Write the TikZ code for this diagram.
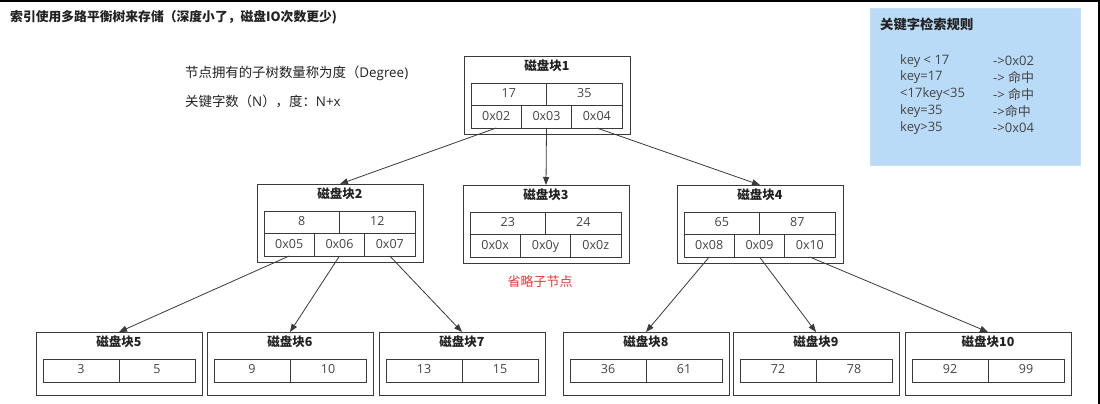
\documentclass[tikz,border=0pt]{standalone}
\usepackage{fontspec}
\setmainfont{Open Sans}
\newfontfamily\cjk{Noto Sans CJK SC}
\usetikzlibrary{arrows.meta}
\definecolor{ink}{HTML}{222222}
\definecolor{txt}{HTML}{444444}
\definecolor{edge}{HTML}{3A3A3A}
\definecolor{rulebg}{HTML}{B9DBF7}
\definecolor{omit}{HTML}{E53935}
\tikzset{
  x=1pt, y=-1pt,
  blk/.style={draw=edge, line width=0.9pt, minimum width=166pt, inner sep=0pt, outer sep=0pt},
  ttl/.style={font=\fontsize{12.5}{14}\selectfont\cjk\bfseries, text=ink, inner sep=0pt},
  cell/.style={draw=edge, line width=0.8pt, inner sep=0pt, outer sep=0pt, anchor=north west,
    font=\fontsize{12.5}{14}\selectfont, text=txt, text height=9pt, text depth=2.5pt},
  kcell/.style={cell, minimum width=75.5pt, minimum height=22.5pt},
  pcell/.style={cell, minimum width=50.33pt, minimum height=22.5pt},
  lcell/.style={cell, minimum width=76pt, minimum height=23pt},
  note/.style={font=\fontsize{13.4}{15}\selectfont, text=ink, anchor=west, inner sep=0pt},
  rule/.style={font=\fontsize{13}{15}\selectfont, text=txt, anchor=west, inner sep=0pt},
  ptr/.style={draw=edge, line width=0.8pt, -{Triangle[length=8pt,width=6pt]}},
}
% inner disk block: name, left, top, title, key1, key2, ptr1, ptr2, ptr3
\newcommand\innerblock[9]{%
  \node[blk, minimum height=78pt, anchor=north west] (#1) at (#2,#3) {};
  \node[ttl] (#1t) at ({#2+83},{#3+10}) {#4};
  \node[kcell] (#1k1) at ({#2+7},{#3+27}) {#5};
  \node[kcell] (#1k2) at ({#2+82.5},{#3+27}) {#6};
  \node[pcell] (#1p1) at ({#2+7},{#3+49.5}) {#7};
  \node[pcell] (#1p2) at ({#2+57.33},{#3+49.5}) {#8};
  \node[pcell] (#1p3) at ({#2+107.67},{#3+49.5}) {#9};
}
% leaf disk block: name, left, top, title, key1, key2
\newcommand\leafblock[6]{%
  \node[blk, minimum height=63pt, anchor=north west] (#1) at (#2,#3) {};
  \node[ttl] (#1t) at ({#2+83},{#3+10}) {#4};
  \node[lcell] (#1k1) at ({#2+7},{#3+27}) {#5};
  \node[lcell] (#1k2) at ({#2+83},{#3+27}) {#6};
}
\begin{document}
\begin{tikzpicture}
\useasboundingbox (0,0) rectangle (1100,404);
\fill[white] (0,0) rectangle (1100,404);
% frame edges
\fill[black] (0,0) rectangle (1100,1.8);
\fill[black] (1098.3,0) rectangle (1100,404);

% heading and notes
\node[font=\fontsize{12.8}{15}\selectfont\cjk\bfseries, text=ink, anchor=west, inner sep=0pt] (head) at (10,17)
  {索引使用多路平衡树来存储（深度小了，磁盘IO次数更少)};
\node[note] (deg) at (185,73) {{\cjk 节点拥有的子树数量称为度（}Degree)};
\node[note] (keys) at (185,101) {{\cjk 关键字数（}N{\cjk ），度：}N+x};

% search rules panel
\node[fill=rulebg, draw=rulebg!85!white, line width=0.5pt, minimum width=210pt, minimum height=157pt,
  anchor=north west, inner sep=0pt] (rules) at (870,8) {};
\node[font=\fontsize{13.3}{15}\selectfont\cjk\bfseries, text=ink, anchor=west, inner sep=0pt] (rulest) at (880,24) {关键字检索规则};
\node[rule] (r1a) at (900,61) {key < 17};
\node[rule] (r1b) at (993,61) {->0x02};
\node[rule] (r2a) at (900,77.5) {key=17};
\node[rule] (r2b) at (993,77.5) {-> {\cjk 命中}};
\node[rule] (r3a) at (900,94) {<17key<35};
\node[rule] (r3b) at (993,94) {-> {\cjk 命中}};
\node[rule] (r4a) at (900,111) {key=35};
\node[rule] (r4b) at (993,111) {->{\cjk 命中}};
\node[rule] (r5a) at (900,128) {key>35};
\node[rule] (r5b) at (993,128) {->0x04};

% tree
\innerblock{b1}{464}{56}{磁盘块1}{17}{35}{0x02}{0x03}{0x04}
\innerblock{b2}{257}{184}{磁盘块2}{8}{12}{0x05}{0x06}{0x07}
\innerblock{b3}{463}{185}{磁盘块3}{23}{24}{0x0x}{0x0y}{0x0z}
\innerblock{b4}{677}{185}{磁盘块4}{65}{87}{0x08}{0x09}{0x10}
\node[font=\fontsize{13}{15}\selectfont\cjk, text=omit, inner sep=0pt] (omitted) at (540,282) {省略子节点};

\leafblock{b5}{36}{332}{磁盘块5}{3}{5}
\leafblock{b6}{207}{332}{磁盘块6}{9}{10}
\leafblock{b7}{379}{332}{磁盘块7}{13}{15}
\leafblock{b8}{563}{332}{磁盘块8}{36}{61}
\leafblock{b9}{733}{332}{磁盘块9}{72}{78}
\leafblock{b10}{905}{332}{磁盘块10}{92}{99}

% child pointers
\draw[ptr] (b1p1.south) -- (b2.north);
\draw[ptr] (b1p2.south) -- (b3.north);
\draw[ptr] (b1p3.south) -- (b4.north);
\draw[ptr] (b2p1.south) -- (b5.north);
\draw[ptr] (b2p2.south) -- (b6.north);
\draw[ptr] (b2p3.south) -- (b7.north);
\draw[ptr] (b4p1.south) -- (b8.north);
\draw[ptr] (b4p2.south) -- (b9.north);
\draw[ptr] (b4p3.south) -- (b10.north);
\end{tikzpicture}
\end{document}
